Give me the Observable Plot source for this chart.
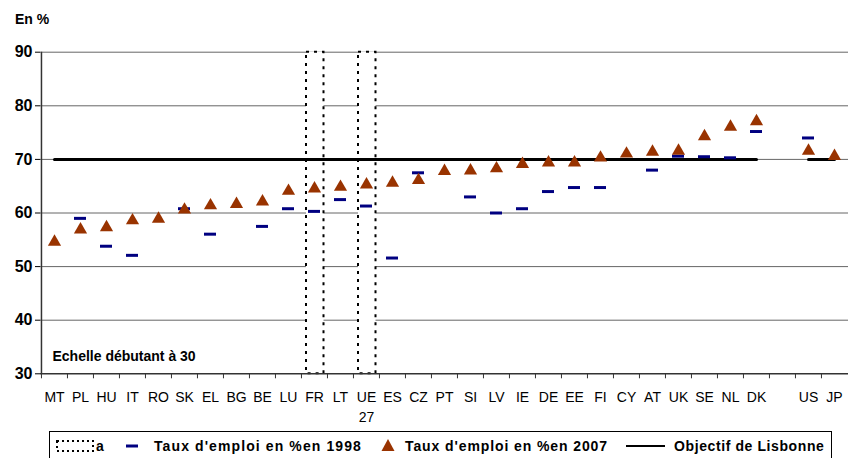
<!DOCTYPE html>
<html><head><meta charset="utf-8">
<script src="https://cdn.jsdelivr.net/npm/d3@7"></script>
<script src="https://cdn.jsdelivr.net/npm/@observablehq/plot@0.6"></script>
<style>
body{margin:0;background:#fff;font-family:"Liberation Sans",Arial,sans-serif;}
#wrap{position:relative;width:848px;height:458px;overflow:hidden;background:#fff;}
#unit{position:absolute;left:15px;top:12px;font-weight:bold;font-size:14px;line-height:14px;color:#000;}
#chart{position:absolute;left:0;top:0;}
#legend{position:absolute;left:49px;top:431px;width:783px;height:40px;border:1px solid #000;box-sizing:border-box;font-weight:bold;font-size:14px;color:#000;background:#fff;}
.it{position:absolute;top:0;height:28px;line-height:28px;white-space:nowrap;letter-spacing:0.9px;}
.ic{position:absolute;top:0;}
</style></head>
<body>
<div id="wrap">
  <div id="chart"></div>
  <div id="unit">En %</div>
  <div id="legend"></div>
</div>
<script>
// ---- data ----
const categories = ["MT","PL","HU","IT","RO","SK","EL","BG","BE","LU","FR","LT","UE27","ES","CZ","PT","SI","LV","IE","DE","EE","FI","CY","AT","UK","SE","NL","DK","","US","JP"];
const rate2007 = [54.6,56.9,57.3,58.6,58.9,60.6,61.4,61.65,62.1,64.1,64.55,64.85,65.3,65.6,66.1,67.8,67.9,68.3,69.1,69.4,69.4,70.3,71.05,71.4,71.6,74.3,76.05,77.1,null,71.6,70.6];
const rate1998 = [null,59.0,53.8,52.1,null,60.8,56.05,null,57.5,60.8,60.3,62.5,61.3,51.6,67.5,null,63.0,60.0,60.8,64.0,64.75,64.75,null,68.0,70.6,70.5,70.3,75.2,null,74.0,null];
const nonEU = ["US","JP"];
const lisbonTarget = 70;
const yTicks = [30,40,50,60,70,80,90];
const framedCategories = ["FR","UE27"];
const scaleNote = "Echelle débutant à 30";
const legendLabels = ["a","Taux d'emploi en %en 1998","Taux d'emploi en %en 2007","Objectif de Lisbonne"];

const rows = categories.map((c,i)=>({c, v07: rate2007[i], v98: rate1998[i]}));
const lisbon = categories.filter(c=>c!=="").map(c=>({c, v: lisbonTarget, g: nonEU.includes(c) ? "hors UE" : "UE"}));

const W = 848, H = 430, ML = 40;
const step = (W - ML) / categories.length;

const chart = Plot.plot({
  width: W, height: H,
  marginTop: 51.7, marginBottom: 56.7, marginLeft: ML, marginRight: 0,
  style: {fontFamily: "'Liberation Sans', Arial, sans-serif", background: "white", color: "#000"},
  x: {domain: categories, padding: 0, axis: null, label: null},
  y: {domain: [30, 90], axis: null, label: null},
  marks: [
    Plot.ruleY(yTicks.filter(t => t > 30), {stroke: "#666", strokeWidth: 1}),
    Plot.barY(framedCategories, {x: d => d, y1: 30, y2: 90, fill: "white", stroke: "#000", strokeWidth: 2, strokeDasharray: "3,5", insetLeft: 5, insetRight: 3.5}),
    Plot.ruleX([categories[0]], {dx: -step/2, stroke: "#333", strokeWidth: 1.5}),
    Plot.ruleY([30], {stroke: "#333", strokeWidth: 1.5}),
    Plot.axisY({ticks: yTicks, tickSize: 5, tickPadding: 3, fontSize: 16, fontWeight: "bold", letterSpacing: 0.8, tickFormat: d => d, label: null}),
    Plot.axisX({tickSize: 5, dx: -step/2, tickFormat: () => "", stroke: "#333", label: null}),
    Plot.axisX({tickSize: 0, tickPadding: 14, fontSize: 14, lineHeight: 1.43, label: null, tickFormat: d => d === "UE27" ? "UE\n27" : d}),
    Plot.lineY(lisbon, {x: "c", y: "v", z: "g", stroke: "#000", strokeWidth: 3}),
    Plot.tickY(rows, {x: "c", y: "v98", stroke: "#000080", strokeWidth: 3, insetLeft: 7, insetRight: 7}),
    Plot.dot(rows, {x: "c", y: "v07", symbol: "triangle", r: 4.9, fill: "#993300", stroke: "none"}),
    Plot.text([scaleNote], {frameAnchor: "bottom-left", dx: 12, dy: -13, fontWeight: "bold", fontSize: 14, letterSpacing: 0.5})
  ]
});
document.getElementById("chart").appendChild(chart);

// ---- legend ----
const lg = document.getElementById("legend");
lg.innerHTML = `
  <svg class="ic" style="left:6px" width="38" height="28"><rect x="1" y="9" width="36" height="10" fill="none" stroke="#000" stroke-width="2" stroke-dasharray="2,3"/></svg>
  <span class="it" style="left:46px">${legendLabels[0]}</span>
  <svg class="ic" style="left:75px" width="14" height="28"><line x1="1" x2="13" y1="14" y2="14" stroke="#000080" stroke-width="3"/></svg>
  <span class="it" style="left:104px;letter-spacing:1.1px">${legendLabels[1]}</span>
  <svg class="ic" style="left:330px" width="16" height="28"><path d="M8,7 L14.5,19 L1.5,19 Z" fill="#993300"/></svg>
  <span class="it" style="left:355px">${legendLabels[2]}</span>
  <svg class="ic" style="left:576px" width="40" height="28"><line x1="0" x2="39" y1="14" y2="14" stroke="#000" stroke-width="2"/></svg>
  <span class="it" style="left:624px;letter-spacing:0.6px">${legendLabels[3]}</span>`;
</script>
</body></html>
